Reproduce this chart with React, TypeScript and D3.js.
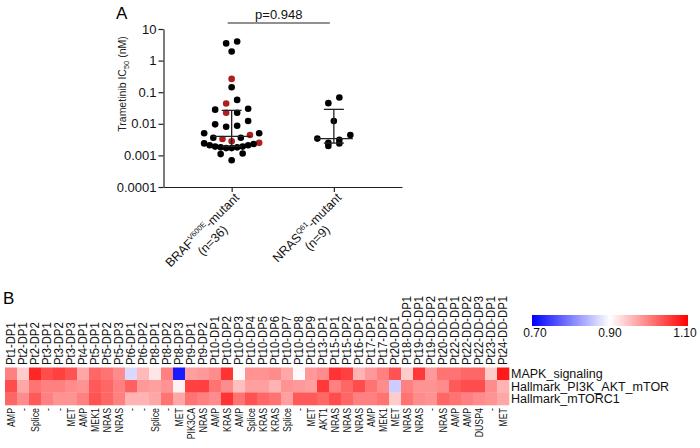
import React, { useEffect, useRef } from "react";
import * as d3 from "d3";

const FONT = "'Liberation Sans', Arial, Helvetica, sans-serif";

// ---------- Panel A data ----------
const groups = ["BRAF", "NRAS"];
const groupLine1 = [
  { main: "BRAF", sup: "V600E", tail: "-mutant" },
  { main: "NRAS", sup: "Q61", tail: "-mutant" },
];
const groupLine2 = ["(n=36)", "(n=9)"];
const brafValues = [
  4.0, 3.5, 1.95, 0.264, 0.144, 0.057, 0.044, 0.03, 0.028, 0.0224, 0.0224, 0.0123,
  0.0096, 0.0087, 0.0081, 0.005, 0.005, 0.0044, 0.0036, 0.0036, 0.0033, 0.0028,
  0.0025, 0.0024, 0.0023, 0.0021, 0.0021, 0.0019, 0.0019, 0.0018, 0.0018, 0.0017,
  0.0017, 0.00115, 0.0011, 0.0007,
];
const brafHighlight = [
  0, 0, 0, 1, 0, 0, 1, 0, 0, 1, 0, 0, 0, 0, 0, 0, 0, 1, 0, 0, 1, 1, 1, 0, 0, 0, 0, 0,
  0, 0, 0, 0, 0, 0, 0, 0,
];
const nrasValues = [0.068, 0.045, 0.0123, 0.0044, 0.0034, 0.0031, 0.0025, 0.0024, 0.002];
const nrasHighlight = [0, 0, 0, 0, 0, 0, 0, 0, 0];
const yTicks = [0.0001, 0.001, 0.01, 0.1, 1, 10];
const yTickLabels = ["0.0001", "0.001", "0.01", "0.1", "1", "10"];
const pValueLabel = "p=0.948";

// ---------- Panel B data ----------
const samples = [
  "Pt1-DP1", "Pt2-DP1", "Pt2-DP2", "Pt3-DP1", "Pt3-DP2", "Pt3-DP3", "Pt4-DP1",
  "Pt5-DP1", "Pt5-DP2", "Pt5-DP3", "Pt6-DP1", "Pt6-DP2", "Pt8-DP1", "Pt8-DP2",
  "Pt8-DP3", "Pt9-DP1", "Pt9-DP2", "Pt10-DP1", "Pt10-DP2", "Pt10-DP3", "Pt10-DP4",
  "Pt10-DP5", "Pt10-DP6", "Pt10-DP7", "Pt10-DP8", "Pt10-DP9", "Pt13-DP1", "Pt15-DP1",
  "Pt15-DP2", "Pt16-DP1", "Pt17-DP1", "Pt17-DP2", "Pt20-DP1", "Pt18-DD-DP1",
  "Pt19-DD-DP1", "Pt19-DD-DP2", "Pt20-DD-DP1", "Pt22-DD-DP1", "Pt22-DD-DP2",
  "Pt22-DD-DP3", "Pt23-DD-DP1", "Pt24-DD-DP1",
];
const alterations = [
  "AMP", "-", "Splice", "-", "-", "MET", "AMP", "MEK1", "NRAS", "NRAS", "-", "-",
  "Splice", "-", "MET", "PIK3CA", "NRAS", "AMP", "KRAS", "AMP", "Splice", "KRAS",
  "KRAS", "Splice", "-", "MET", "AKT1", "NRAS", "NRAS", "NRAS", "AMP", "MEK1", "MET",
  "NRAS", "NRAS", "-", "NRAS", "AMP", "AMP", "DUSP4", "-", "MET",
];
const pathways = ["MAPK_signaling", "Hallmark_PI3K_AKT_mTOR", "Hallmark_mTORC1"];
const mapkScores = [
  1.0, 0.94, 1.07, 1.04, 1.05, 1.035, 0.97, 1.02, 1.01, 0.99, 0.87, 0.955, 0.92, 1.0,
  0.72, 0.975, 0.98, 0.99, 1.06, 0.905, 0.985, 0.985, 0.99, 0.97, 0.905, 0.98, 0.99,
  1.06, 1.05, 0.96, 0.98, 1.0, 1.035, 0.94, 1.055, 0.98, 1.01, 1.01, 1.02, 1.02, 0.94,
  1.08,
];
const pi3kScores = [
  1.04, 0.97, 1.01, 1.0, 1.0, 0.99, 0.985, 1.03, 1.02, 1.0, 1.025, 0.98, 0.975, 0.985,
  0.91, 1.05, 1.05, 1.01, 0.99, 0.95, 0.975, 0.975, 0.96, 0.985, 0.98, 0.975, 1.055,
  1.0, 1.02, 1.04, 1.01, 0.99, 0.86, 1.0, 0.985, 0.985, 0.99, 1.03, 1.04, 1.04, 0.99,
  0.96,
];
const mtorc1Scores = [
  1.02, 0.99, 1.03, 1.0, 0.985, 0.985, 1.0, 1.035, 1.02, 1.0, 0.96, 0.96, 0.97, 1.01,
  0.97, 1.01, 1.0, 0.99, 1.06, 1.01, 1.035, 1.02, 1.01, 0.975, 1.03, 1.03, 1.02, 1.04,
  1.02, 1.0, 1.0, 1.01, 0.94, 1.01, 0.99, 0.985, 1.02, 1.01, 1.0, 0.99, 0.985, 0.97,
];
const colorDomain = [0.7, 0.9, 1.1];
const colorTickLabels = ["0.70", "0.90", "1.10"];

// Prism-style quantile ((n+1) method)
function prismQuantile(vals: number[], p: number) {
  const s = [...vals].sort((a, b) => a - b);
  const n = s.length;
  let pos = p * (n + 1);
  if (pos < 1) pos = 1;
  if (pos > n) pos = n;
  const lo = Math.floor(pos);
  const frac = pos - lo;
  const a = s[lo - 1];
  const b = s[Math.min(lo, n - 1)];
  return a + frac * (b - a);
}

// Prism-like scatter layout: points grouped into horizontal rows (bins),
// each row spread symmetrically about the column centre.
function binSwarm(ys: number[], binH: number, maxW: number) {
  const order = ys.map((_, i) => i).sort((a, b) => ys[a] - ys[b]);
  const bins: number[][] = [];
  let cur: number[] = [];
  let start = -Infinity;
  for (const i of order) {
    if (cur.length && ys[i] - start <= binH) cur.push(i);
    else {
      if (cur.length) bins.push(cur);
      cur = [i];
      start = ys[i];
    }
  }
  if (cur.length) bins.push(cur);
  const xs = new Array(ys.length).fill(0);
  for (const b of bins) {
    const n = b.length;
    const s = n <= 4 ? 11 : Math.max(5.5, maxW / (n - 1));
    // lowest values (largest y) go to the centre
    const sorted = [...b].sort((a, c) => ys[c] - ys[a]);
    sorted.forEach((idx, k) => {
      let slot: number;
      if (n % 2 === 1) slot = k === 0 ? 0 : (k % 2 === 1 ? -1 : 1) * Math.ceil(k / 2);
      else slot = (k % 2 === 0 ? -1 : 1) * (Math.floor(k / 2) + 0.5);
      xs[idx] = slot * s;
    });
  }
  return xs;
}

export default function App() {
  const ref = useRef<SVGSVGElement>(null);

  useEffect(() => {
    const svg = d3.select(ref.current);
    svg.selectAll("*").remove();
    svg.style("font-family", FONT);

    // ================= Panel A =================
    const axisY = 187;
    const y = d3.scaleLog().domain([0.0001, 10]).range([axisY, 29]);
    const x = d3.scalePoint<string>().domain(groups).range([163.5, 402]).padding(0.667);

    svg.append("text").attr("x", 116).attr("y", 19).attr("font-size", 17).text("A");

    // y axis
    const yAxis = d3
      .axisLeft(y)
      .tickValues(yTicks)
      .tickFormat((_, i) => yTickLabels[i])
      .tickSize(5)
      .tickSizeOuter(0)
      .tickPadding(2);
    const gy = svg.append("g").attr("transform", "translate(163.5,0)").call(yAxis as any);
    gy.selectAll("text").attr("font-size", 13).attr("font-family", FONT).attr("fill", "#111");
    gy.selectAll("line,path").attr("stroke", "#222").attr("stroke-width", 1.2);

    // y label
    const yl = svg
      .append("text")
      .attr("transform", "translate(126,84) rotate(-90)")
      .attr("text-anchor", "middle")
      .attr("font-size", 10.5)
      .attr("fill", "#222");
    yl.append("tspan").text("Trametinib IC");
    yl.append("tspan").attr("font-size", 7.5).attr("dy", 2.5).text("50");
    yl.append("tspan").attr("dy", -2.5).text(" (nM)");

    // x axis
    const xAxis = d3.axisBottom(x).tickSize(5).tickSizeOuter(0).tickFormat(() => "");
    const gx = svg.append("g").attr("transform", `translate(0,${axisY})`).call(xAxis as any);
    gx.selectAll("line,path").attr("stroke", "#222").attr("stroke-width", 1.2);

    // x labels
    groups.forEach((g, gi) => {
      const cx = x(g)!;
      const lg = svg
        .append("g")
        .attr("transform", `translate(${cx + 2},${axisY + 5}) rotate(-45)`)
        .attr("font-size", 12.5)
        .attr("fill", "#111");
      const t1 = lg.append("text").attr("x", 0).attr("y", 9).attr("text-anchor", "end");
      t1.append("tspan").text(groupLine1[gi].main);
      t1.append("tspan").attr("font-size", 7.5).attr("dy", -5).text(groupLine1[gi].sup);
      t1.append("tspan").attr("dy", 5).text(groupLine1[gi].tail);
      const w = (t1.node() as SVGTextElement).getComputedTextLength();
      lg.append("text")
        .attr("x", -w / 2)
        .attr("y", 23.5)
        .attr("text-anchor", "middle")
        .text(groupLine2[gi]);
    });

    // points
    const r = 3.3;
    const sets = [
      { g: "BRAF", vals: brafValues, hl: brafHighlight },
      { g: "NRAS", vals: nrasValues, hl: nrasHighlight },
    ];
    sets.forEach((s) => {
      const cx = x(s.g)!;
      const ys = s.vals.map((v) => y(v));
      const offs = binSwarm(ys, 8, 55);
      svg
        .append("g")
        .selectAll("circle")
        .data(s.vals)
        .join("circle")
        .attr("cx", (_, i) => cx + offs[i])
        .attr("cy", (_, i) => ys[i])
        .attr("r", r)
        .attr("fill", (_, i) => (s.hl[i] ? "#ad1f1f" : "#000"));

      const med = prismQuantile(s.vals, 0.5);
      const q1 = prismQuantile(s.vals, 0.25);
      const q3 = prismQuantile(s.vals, 0.75);
      const eg = svg.append("g").attr("stroke", "#222").attr("stroke-width", 1.3);
      eg.append("line").attr("x1", cx).attr("x2", cx).attr("y1", y(q1)).attr("y2", y(q3));
      eg.append("line").attr("x1", cx - 10).attr("x2", cx + 10).attr("y1", y(q1)).attr("y2", y(q1));
      eg.append("line").attr("x1", cx - 10).attr("x2", cx + 10).attr("y1", y(q3)).attr("y2", y(q3));
      eg.append("line").attr("x1", cx - 19).attr("x2", cx + 19).attr("y1", y(med)).attr("y2", y(med));
    });

    // p-value bracket
    const bx1 = x("BRAF")! - 4;
    const bx2 = x("NRAS")! - 4;
    svg
      .append("line")
      .attr("x1", bx1)
      .attr("x2", bx2)
      .attr("y1", 23)
      .attr("y2", 23)
      .attr("stroke", "#222")
      .attr("stroke-width", 1.2);
    svg
      .append("text")
      .attr("x", (bx1 + bx2) / 2)
      .attr("y", 19)
      .attr("text-anchor", "middle")
      .attr("font-size", 13)
      .attr("fill", "#111")
      .text(pValueLabel);

    // ================= Panel B =================
    svg.append("text").attr("x", 3).attr("y", 304).attr("font-size", 17).text("B");

    const hx = d3.scaleBand().domain(samples).range([5, 509]);
    const hy = d3.scaleBand().domain(pathways).range([367.5, 405]);
    const color = d3
      .scaleLinear<string>()
      .domain(colorDomain)
      .range(["#0000ff", "#ffffff", "#ff0000"])
      .clamp(true);
    const rows = [mapkScores, pi3kScores, mtorc1Scores];

    const cells = svg.append("g");
    rows.forEach((row, ri) => {
      cells
        .append("g")
        .selectAll("rect")
        .data(row)
        .join("rect")
        .attr("x", (_, i) => hx(samples[i])!)
        .attr("y", hy(pathways[ri])!)
        .attr("width", hx.bandwidth() + 0.3)
        .attr("height", hy.bandwidth() + 0.3)
        .attr("fill", (d) => color(d));
    });

    // top labels
    const bw = hx.bandwidth();
    svg
      .append("g")
      .selectAll("text")
      .data(samples)
      .join("text")
      .attr("transform", (d) => `translate(${hx(d)! + bw / 2 + 4.4},365) rotate(-90) scale(1,1.08)`)
      .attr("text-anchor", "start")
      .attr("font-size", 11.3)
      .attr("fill", "#111")
      .text((d) => d);

    // bottom labels
    svg
      .append("g")
      .selectAll("text")
      .data(alterations)
      .join("text")
      .attr("transform", (_, i) => `translate(${hx(samples[i])! + bw / 2 + 4},408) rotate(-90) scale(1,1.25)`)
      .attr("text-anchor", "end")
      .attr("font-size", 8.8)
      .attr("fill", "#111")
      .text((d) => d);

    // row labels
    svg
      .append("g")
      .selectAll("text")
      .data(pathways)
      .join("text")
      .attr("x", 511)
      .attr("y", (d) => hy(d)! + hy.bandwidth() / 2 + 4.5)
      .attr("font-size", 12.5)
      .attr("fill", "#111")
      .text((d) => d);

    // color bar
    const cbx = d3.scaleLinear().domain([0.7, 1.1]).range([532, 688]);
    const defs = svg.append("defs");
    const grad = defs
      .append("linearGradient")
      .attr("id", "cbar")
      .attr("x1", "0%")
      .attr("x2", "100%")
      .attr("y1", "0%")
      .attr("y2", "0%");
    colorDomain.forEach((v) => {
      grad
        .append("stop")
        .attr("offset", `${((v - 0.7) / 0.4) * 100}%`)
        .attr("stop-color", color(v));
    });
    svg
      .append("rect")
      .attr("x", cbx(0.7))
      .attr("y", 315)
      .attr("width", cbx(1.1) - cbx(0.7))
      .attr("height", 11)
      .attr("fill", "url(#cbar)");
    svg
      .append("g")
      .selectAll("text")
      .data(colorDomain)
      .join("text")
      .attr("x", (d) => cbx(d) + (d === 0.7 ? 3 : d === 1.1 ? -3 : 0))
      .attr("y", 337)
      .attr("text-anchor", "middle")
      .attr("font-size", 12)
      .attr("fill", "#111")
      .text((_, i) => colorTickLabels[i]);
  }, []);

  return (
    <svg
      ref={ref}
      width={700}
      height={448}
      style={{ position: "absolute", left: 0, top: 0, background: "#fff" }}
    />
  );
}
